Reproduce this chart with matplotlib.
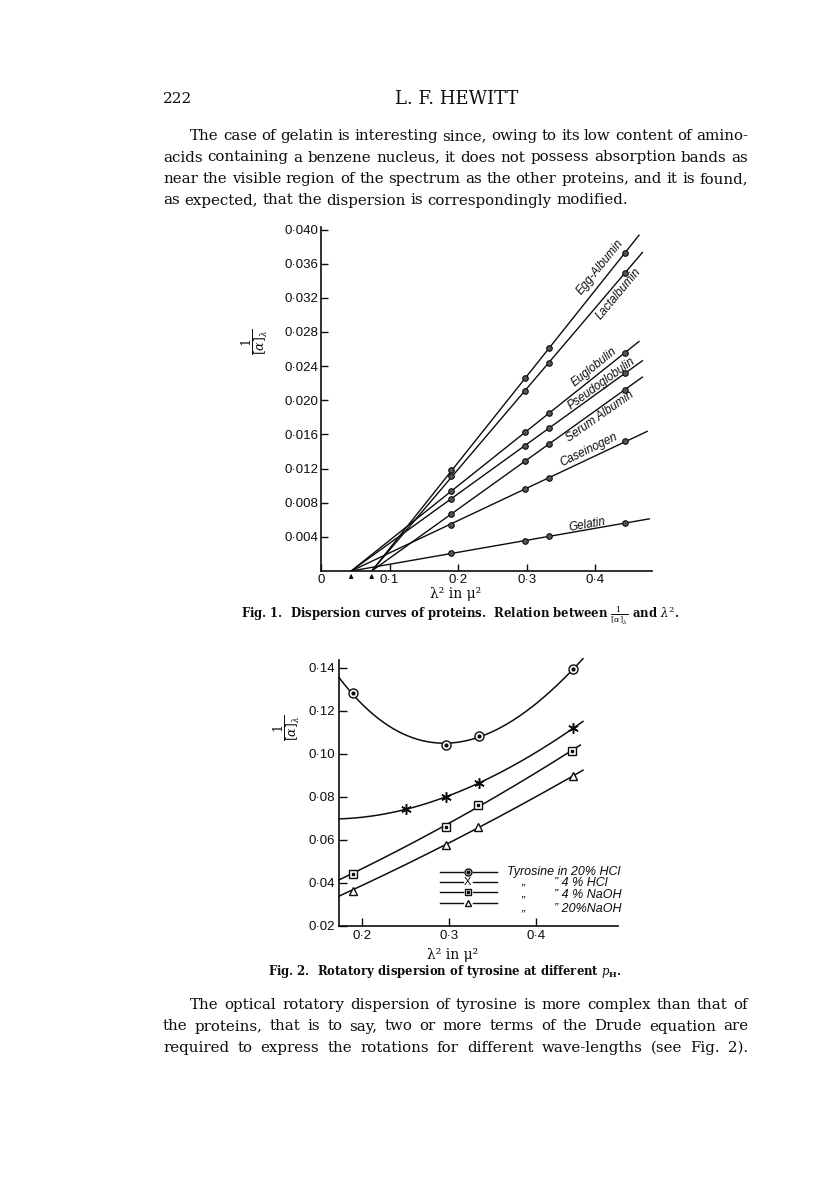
import numpy as np
import matplotlib
matplotlib.use("Agg")
import matplotlib.pyplot as plt

# ---- data: Fig. 1, 1/[a] against lambda^2 for the proteins
lam2 = [0.190, 0.298, 0.333, 0.443]
proteins = ["Egg-Albumin", "Lactalbumin", "Euglobulin", "Pseudoglobulin",
            "Serum Albumin", "Caseinogen", "Gelatin"]
egg = [0.0118, 0.0226, 0.0261, 0.0372]
lact = [0.0111, 0.0211, 0.0244, 0.0349]
eugl = [0.0094, 0.0163, 0.0185, 0.0255]
pseudo = [0.0084, 0.0147, 0.0167, 0.0232]
serum = [0.0067, 0.0129, 0.0149, 0.0212]
casein = [0.0054, 0.0096, 0.0109, 0.0152]
gelatin = [0.0021, 0.0035, 0.0041, 0.0056]
lam0 = [0.074, 0.074, 0.044, 0.044, 0.074, 0.044, 0.044]   # x-axis intercepts
lam_end = [0.464, 0.469, 0.464, 0.469, 0.469, 0.476, 0.479]
arrows = [0.044, 0.074]

# ---- data: Fig. 2, tyrosine at different pH
tyr_labels = ["Tyrosine in 20% HCl", "4 % HCl", "4 % NaOH", "20%NaOH"]
hcl20_x = [0.190, 0.297, 0.334, 0.443]
hcl20_y = [0.1284, 0.1042, 0.1084, 0.1395]
hcl4_x = [0.251, 0.297, 0.334, 0.443]
hcl4_y = [0.0744, 0.0800, 0.0865, 0.1120]
naoh4_x = [0.190, 0.297, 0.333, 0.441]
naoh4_y = [0.0442, 0.0662, 0.0763, 0.1014]
naoh20_x = [0.190, 0.297, 0.333, 0.443]
naoh20_y = [0.0364, 0.0577, 0.0660, 0.0898]
start_y = [0.1349, 0.0698, 0.0419, 0.0344]     # value where each curve meets the y axis
end_x = [0.454, 0.454, 0.451, 0.454]

W, H = 816, 1200
INK = "#0d0d0d"
SERIF = "DejaVu Serif"
SANS = "Liberation Sans"

fig = plt.figure(figsize=(W / 100, H / 100), dpi=100)
fig.patch.set_facecolor("white")
plt.rcParams["mathtext.fontset"] = "dejavuserif"


def fx(px):
    return px / W


def fy(py):
    return 1 - py / H


def dot(v, n):
    return f"{v:.{n}f}".replace(".", "\u00b7")


# ---- page text
X0, X1 = 163, 748
renderer = fig.canvas.get_renderer()


def justify(line, y, size=10.8, indent=0, last=False):
    words = line.split()
    texts = [fig.text(0, fy(y), w, fontsize=size, family=SERIF, color=INK, va="center")
             for w in words]
    widths = [t.get_window_extent(renderer).width for t in texts]
    space = size * 100 / 72 * 0.3
    if last:
        gap = space
    else:
        gap = max((X1 - X0 - indent - sum(widths)) / (len(words) - 1), space * 0.5)
    x = X0 + indent
    for t, w in zip(texts, widths):
        t.set_x(fx(x))
        x += w + gap


fig.text(fx(X0), fy(99), "222", fontsize=11, family=SERIF, color=INK, va="center")
fig.text(fx(457), fy(99), "L. F. HEWITT", fontsize=13, family=SERIF, color=INK,
         va="center", ha="center")

top_lines = [
    "The case of gelatin is interesting since, owing to its low content of amino-",
    "acids containing a benzene nucleus, it does not possess absorption bands as",
    "near the visible region of the spectrum as the other proteins, and it is found,",
    "as expected, that the dispersion is correspondingly modified.",
]
for i, ln in enumerate(top_lines):
    justify(ln, 136 + 21.5 * i, indent=27 if i == 0 else 0, last=(i == 3))

bottom_lines = [
    "The optical rotatory dispersion of tyrosine is more complex than that of",
    "the proteins, that is to say, two or more terms of the Drude equation are",
    "required to express the rotations for different wave-lengths (see Fig. 2).",
]
for i, ln in enumerate(bottom_lines):
    justify(ln, 1005 + 21.5 * i, indent=27 if i == 0 else 0)

# ---- Fig. 1
ax1 = fig.add_axes([fx(321), fy(571), fx(652) - fx(321), fy(227) - fy(571)])
ax1.set_xlim(0, 0.483)
ax1.set_ylim(0, 0.0403)
for s in ["top", "right"]:
    ax1.spines[s].set_visible(False)
for s in ["left", "bottom"]:
    ax1.spines[s].set_linewidth(1.2)
    ax1.spines[s].set_color(INK)

yt = np.arange(0.004, 0.0401, 0.004)
ax1.set_yticks(yt)
ax1.set_yticklabels([dot(v, 3) for v in yt], fontsize=9.5, family=SANS, color=INK)
xt = [0, 0.1, 0.2, 0.3, 0.4]
ax1.set_xticks(xt)
ax1.set_xticklabels(["0"] + [dot(v, 1) for v in xt[1:]], fontsize=9.5, family=SANS, color=INK)
ax1.tick_params(direction="in", length=5, width=1, color=INK, pad=2)

series = [egg, lact, eugl, pseudo, serum, casein, gelatin]
for vals, x0, xe in zip(series, lam0, lam_end):
    x = np.array(lam2) - x0
    y = np.array(vals)
    k = (x * y).sum() / (x * x).sum()
    ax1.plot([x0, xe], [0, k * (xe - x0)], color=INK, lw=1.0)
    ax1.plot(lam2, vals, "o", ms=4.0, mfc="#555555", mec=INK, mew=0.8)

label_pos = [(0.407, 0.0356, 51), (0.434, 0.0325, 50), (0.399, 0.0239, 39),
             (0.410, 0.0220, 36), (0.407, 0.0181, 35), (0.391, 0.0142, 26),
             (0.388, 0.0054, 10)]
for name, (lx, ly, rot) in zip(proteins, label_pos):
    ax1.text(lx, ly, name, rotation=rot, rotation_mode="anchor", ha="center",
             va="center", fontsize=8.5, family=SANS, style="italic", color=INK)

for a in arrows:
    ax1.annotate("", xy=(a, 0), xytext=(a, -0.0012), annotation_clip=False,
                 arrowprops=dict(arrowstyle="-|>", lw=0.8, color=INK, mutation_scale=6))

frac = r"$\dfrac{1}{[\alpha]_\lambda}$"
fig.text(fx(255), fy(342), frac, rotation=90, fontsize=9, ha="center", va="center", color=INK)
fig.text(fx(456), fy(594), "\u03bb\u00b2 in \u03bc\u00b2", fontsize=10, family=SERIF,
         ha="center", va="center", color=INK)
fig.text(fx(460), fy(615),
         r"Fig. 1.  Dispersion curves of proteins.  Relation between $\frac{1}{[\alpha]_\lambda}$ and $\lambda^2$.",
         fontsize=8.4, family=SERIF, weight="bold", ha="center", va="center", color=INK)

# ---- Fig. 2
ax2 = fig.add_axes([fx(339), fy(926), fx(618) - fx(339), fy(660) - fy(926)])
ax2.set_xlim(0.1736, 0.4943)
ax2.set_ylim(0.02, 0.1437)
for s in ["top", "right"]:
    ax2.spines[s].set_visible(False)
for s in ["left", "bottom"]:
    ax2.spines[s].set_linewidth(1.2)
    ax2.spines[s].set_color(INK)
yt2 = np.arange(0.02, 0.141, 0.02)
ax2.set_yticks(yt2)
ax2.set_yticklabels([dot(v, 2) for v in yt2], fontsize=9.5, family=SANS, color=INK)
xt2 = [0.2, 0.3, 0.4]
ax2.set_xticks(xt2)
ax2.set_xticklabels([dot(v, 1) for v in xt2], fontsize=9.5, family=SANS, color=INK)
ax2.tick_params(direction="in", length=6, width=1, color=INK, pad=3)

xs = [hcl20_x, hcl4_x, naoh4_x, naoh20_x]
ys = [hcl20_y, hcl4_y, naoh4_y, naoh20_y]
degs = [3, 3, 2, 2]
x_left = 0.1736
for px, py, y0, xe, d in zip(xs, ys, start_y, end_x, degs):
    c = np.polyfit([x_left] + px, [y0] + py, d)
    xx = np.linspace(x_left, xe, 200)
    ax2.plot(xx, np.polyval(c, xx), color=INK, lw=1.1, clip_on=False)


def tyr_marker(ax, x, y, kind, size=6.5, transform=None):
    kw = dict(transform=transform) if transform is not None else {}
    if kind == 0:
        ax.plot(x, y, "o", ms=size, mfc="white", mec=INK, mew=1.0, clip_on=False, **kw)
        ax.plot(x, y, "o", ms=2.0, color=INK, clip_on=False, **kw)
    elif kind == 1:
        ax.plot(x, y, marker=(6, 2, 0), ms=size + 1, color=INK, mew=1.1, ls="none",
                clip_on=False, **kw)
    elif kind == 2:
        ax.plot(x, y, "s", ms=size - 0.5, mfc="white", mec=INK, mew=1.0, clip_on=False, **kw)
        ax.plot(x, y, "s", ms=1.8, color=INK, clip_on=False, **kw)
    else:
        ax.plot(x, y, "^", ms=size - 0.5, mfc="white", mec=INK, mew=1.0, clip_on=False, **kw)


for k, (px, py) in enumerate(zip(xs, ys)):
    tyr_marker(ax2, px, py, k)

# key drawn by hand, like the printed one
rows = [0.203, 0.165, 0.128, 0.086]
text_rows = [0.203, 0.162, 0.117, 0.064]
for k, r in enumerate(rows):
    ax2.plot([0.362, 0.445], [r, r], color=INK, lw=1.0, transform=ax2.transAxes)
    ax2.plot([0.48, 0.566], [r, r], color=INK, lw=1.0, transform=ax2.transAxes)
    if k == 1:
        ax2.text(0.462, r, "X", transform=ax2.transAxes, ha="center", va="center",
                 fontsize=8, family=SANS, color=INK)
    else:
        tyr_marker(ax2, [0.462], [r], k, size=5, transform=ax2.transAxes)
ax2.text(0.602, text_rows[0], tyr_labels[0], transform=ax2.transAxes, va="center",
         fontsize=9, family=SANS, style="italic", color=INK)
for k in range(1, 4):
    ax2.text(0.655, text_rows[k], "\u201e", transform=ax2.transAxes, va="center",
             fontsize=9, family=SANS, style="italic", color=INK)
    ax2.text(0.77, text_rows[k], "\u201d " + tyr_labels[k], transform=ax2.transAxes,
             va="center", fontsize=9, family=SANS, style="italic", color=INK)

fig.text(fx(287), fy(728), frac, rotation=90, fontsize=9, ha="center", va="center", color=INK)
fig.text(fx(453), fy(955), "\u03bb\u00b2 in \u03bc\u00b2", fontsize=10, family=SERIF,
         ha="center", va="center", color=INK)
fig.text(fx(445), fy(972),
         r"Fig. 2.  Rotatory dispersion of tyrosine at different $p_{\mathbf{H}}$.",
         fontsize=8.4, family=SERIF, weight="bold", ha="center", va="center", color=INK)

fig.savefig("out.png", dpi=100, facecolor="white")
